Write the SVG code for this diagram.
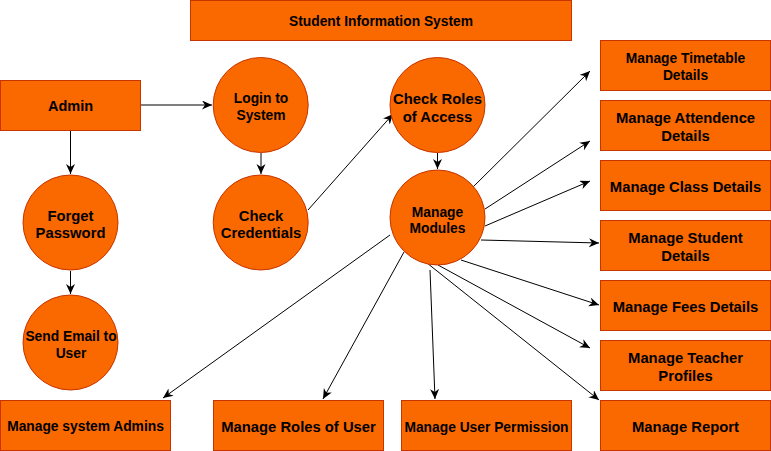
<svg xmlns="http://www.w3.org/2000/svg" width="771" height="451" viewBox="0 0 771 451">
<style>
.n{fill:#FA6800;stroke:#C73500;stroke-width:1}
text{font-family:"Liberation Sans",Arial,sans-serif;font-weight:bold;fill:#000;text-anchor:middle}
.c line{stroke:#000;stroke-width:1;marker-end:url(#ah)}
</style>
<defs>
<marker id="ah" markerUnits="userSpaceOnUse" markerWidth="12" markerHeight="10" refX="10" refY="4.5" orient="auto">
<path d="M0,0 L10,4.5 L0,9 L3,4.5 z" fill="#000"/>
</marker>
</defs>
<rect width="771" height="451" fill="#fff"/>
<g class="c">
<line x1="140.5" y1="105" x2="212" y2="105"/>
<line x1="70.5" y1="131" x2="70.5" y2="174"/>
<line x1="70.5" y1="271" x2="70.5" y2="294"/>
<line x1="261" y1="153" x2="261" y2="174"/>
<line x1="308" y1="210" x2="393" y2="114"/>
<line x1="437.5" y1="153" x2="437.5" y2="169"/>
<line x1="470" y1="190" x2="590" y2="71"/>
<line x1="485" y1="209" x2="590" y2="141"/>
<line x1="485" y1="226" x2="590" y2="181"/>
<line x1="481" y1="240" x2="599" y2="243"/>
<line x1="461" y1="260" x2="599" y2="305"/>
<line x1="438" y1="265" x2="590" y2="348"/>
<line x1="427" y1="263" x2="599" y2="400"/>
<line x1="430" y1="270" x2="435" y2="399"/>
<line x1="404" y1="252" x2="323" y2="399"/>
<line x1="390" y1="235" x2="163" y2="398"/>
</g>
<g id="title"><rect class="n" x="190.5" y="0.5" width="381" height="40"/><text x="381" y="26" font-size="13.8">Student Information System</text></g>
<g id="admin"><rect class="n" x="0.5" y="80.5" width="140" height="50"/><text x="70.5" y="111" font-size="14.5">Admin</text></g>
<g id="login"><circle class="n" cx="260.7" cy="105" r="47.5"/><text x="261" y="103" font-size="13.8">Login to</text><text x="261" y="120" font-size="13.8">System</text></g>
<g id="checkcred"><circle class="n" cx="260.7" cy="222.5" r="47.5"/><text x="261" y="221" font-size="14.8">Check</text><text x="261" y="238" font-size="14.8">Credentials</text></g>
<g id="forget"><circle class="n" cx="70.5" cy="222.5" r="47.5"/><text x="70.5" y="221" font-size="14.8">Forget</text><text x="70.5" y="238" font-size="14.8">Password</text></g>
<g id="sendemail"><circle class="n" cx="70.5" cy="342.5" r="47.5"/><text x="71" y="341" font-size="13.8">Send Email to</text><text x="71" y="358" font-size="13.8">User</text></g>
<g id="checkroles"><circle class="n" cx="437.5" cy="105" r="47.5"/><text x="437.5" y="103.5" font-size="14.8">Check Roles</text><text x="437.5" y="121.5" font-size="14.8">of Access</text></g>
<g id="modules"><circle class="n" cx="437.5" cy="217.5" r="47.5"/><text x="437.5" y="217" font-size="13.8">Manage</text><text x="437.5" y="233" font-size="13.8">Modules</text></g>
<g id="timetable"><rect class="n" x="600.5" y="40.5" width="170" height="50"/><text x="685.5" y="63" font-size="13.8">Manage Timetable</text><text x="685.5" y="80" font-size="13.8">Details</text></g>
<g id="attendence"><rect class="n" x="600.5" y="100.5" width="170" height="50"/><text x="685.5" y="123" font-size="14.8">Manage Attendence</text><text x="685.5" y="141" font-size="14.8">Details</text></g>
<g id="class"><rect class="n" x="600.5" y="160.5" width="170" height="50"/><text x="685.5" y="192" font-size="14.8">Manage Class Details</text></g>
<g id="student"><rect class="n" x="600.5" y="220.5" width="170" height="50"/><text x="685.5" y="243" font-size="14.8">Manage Student</text><text x="685.5" y="261" font-size="14.8">Details</text></g>
<g id="fees"><rect class="n" x="600.5" y="280.5" width="170" height="50"/><text x="685.5" y="312" font-size="14.8">Manage Fees Details</text></g>
<g id="teacher"><rect class="n" x="600.5" y="340.5" width="170" height="50"/><text x="685.5" y="363" font-size="14.8">Manage Teacher</text><text x="685.5" y="381" font-size="14.8">Profiles</text></g>
<g id="report"><rect class="n" x="600.5" y="400.5" width="170" height="50"/><text x="685.5" y="432" font-size="14.8">Manage Report</text></g>
<g id="sysadmins"><rect class="n" x="0.5" y="400.5" width="170" height="50"/><text x="85.5" y="431" font-size="13.8">Manage system Admins</text></g>
<g id="rolesuser"><rect class="n" x="213.5" y="400.5" width="170" height="50"/><text x="298.5" y="432" font-size="14.8">Manage Roles of User</text></g>
<g id="permission"><rect class="n" x="401.5" y="400.5" width="170" height="50"/><text x="486.5" y="432" font-size="13.8">Manage User Permission</text></g>
</svg>
